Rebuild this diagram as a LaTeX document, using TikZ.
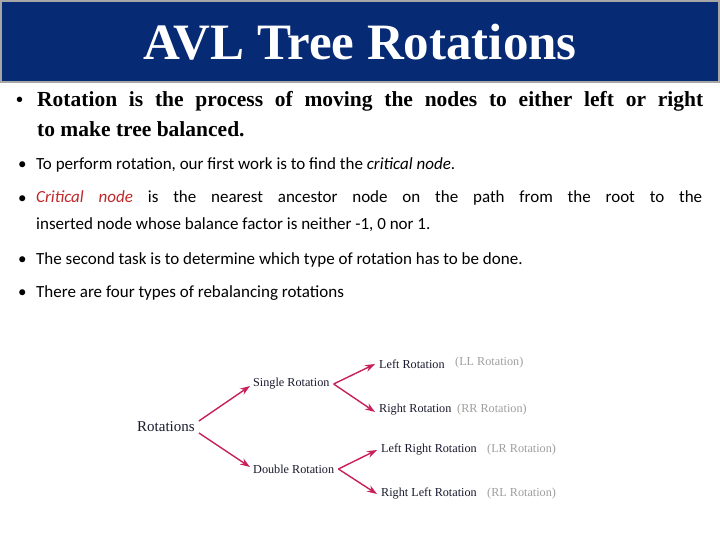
\documentclass[tikz,border=0pt]{standalone}
\usepackage{fontspec}
\setmainfont{Liberation Serif}
\newfontfamily\carl{Carlito}
\usetikzlibrary{arrows.meta}
\definecolor{navy}{HTML}{062A73}
\definecolor{arr}{HTML}{C8205A}
\definecolor{crit}{HTML}{C0282A}
\definecolor{txt}{HTML}{1A1A2E}
\tikzset{x=1pt,y=-1pt,
 bul/.style={anchor=north west,inner sep=0pt,text width=#1,align=justify},
 lbl/.style={anchor=west,inner sep=0pt,font=\fontsize{12.2}{14}\selectfont,text=txt},
 gry/.style={anchor=west,inner sep=0pt,font=\fontsize{12.2}{14}\selectfont,text=gray!75},
 ar/.style={draw=arr,line width=1.4pt,-{Stealth[length=10pt,width=7pt]}}}
\begin{document}
\begin{tikzpicture}
\useasboundingbox (0,0) rectangle (720,540);
\fill[white] (0,0) rectangle (720,540);
\draw[fill=navy,draw=gray!70,line width=2pt] (1,1) rectangle (719,82);
\node[text=white,font=\bfseries\fontsize{51}{56}\selectfont] (title) at (360,42) {AVL Tree Rotations};
\node[inner sep=0pt,anchor=base west,font=\bfseries\fontsize{20}{24}\selectfont] (b1) at (16,107) {•};
\node[bul=666pt,anchor=north west,font=\bfseries\fontsize{21.5}{30}\selectfont] (t1) at (37,91) {Rotation is the process of moving the nodes to either left or right\linebreak to make tree balanced.};
\node[inner sep=0pt,anchor=base west,font=\carl\fontsize{17}{20}\selectfont] (b2) at (18,170) {•};
\node[inner sep=0pt,anchor=base west,font=\carl\fontsize{17}{20}\selectfont] (t2) at (36,170) {To perform rotation, our first work is to find the \textit{critical node}.};
\node[inner sep=0pt,anchor=base west,font=\carl\fontsize{17}{20}\selectfont] (b3) at (18,204) {•};
\node[bul=666pt,font=\carl\fontsize{17}{27}\selectfont] (t3) at (36,190) {\textcolor{crit}{\textit{Critical node}} is the nearest ancestor node on the path from the root to the\linebreak inserted node whose balance factor is neither -1, 0 nor 1.};
\node[inner sep=0pt,anchor=base west,font=\carl\fontsize{17}{20}\selectfont] (b4) at (18,264) {•};
\node[inner sep=0pt,anchor=base west,font=\carl\fontsize{17}{20}\selectfont] (t4) at (36,264) {The second task is to determine which type of rotation has to be done.};
\node[inner sep=0pt,anchor=base west,font=\carl\fontsize{17}{20}\selectfont] (b5) at (18,297) {•};
\node[inner sep=0pt,anchor=base west,font=\carl\fontsize{17}{20}\selectfont] (t5) at (36,297) {There are four types of rebalancing rotations};
% diagram
\node[anchor=west,inner sep=1pt,font=\fontsize{15}{17}\selectfont,text=txt] (rot) at (136,427) {Rotations};
\node[lbl] (sr) at (253,384) {Single Rotation};
\node[lbl] (dr) at (253,469) {Double Rotation};
\node[lbl] (lr) at (379,364) {Left Rotation};
\node[lbl] (rr) at (379,410) {Right Rotation};
\node[lbl] (lrr) at (381,450) {Left Right Rotation};
\node[lbl] (rlr) at (381,494) {Right Left Rotation};
\node[gry] (g1) at (455,363) {(LL Rotation)};
\node[gry] (g2) at (457,410) {(RR Rotation)};
\node[gry] (g3) at (487,450) {(LR Rotation)};
\node[gry] (g4) at (487,494) {(RL Rotation)};
\draw[ar] ([shift={(3,-6)}]rot.east) -- ([shift={(-3,2)}]sr.west);
\draw[ar] ([shift={(3,6)}]rot.east) -- ([shift={(-3,-2)}]dr.west);
\draw[ar] ([xshift=4pt]sr.east) -- ([xshift=-4pt]lr.west);
\draw[ar] ([xshift=4pt]sr.east) -- ([xshift=-4pt,yshift=-2pt]rr.west);
\draw[ar] ([xshift=4pt]dr.east) -- ([xshift=-4pt]lrr.west);
\draw[ar] ([xshift=4pt]dr.east) -- ([xshift=-4pt]rlr.west);
\end{tikzpicture}
\end{document}
